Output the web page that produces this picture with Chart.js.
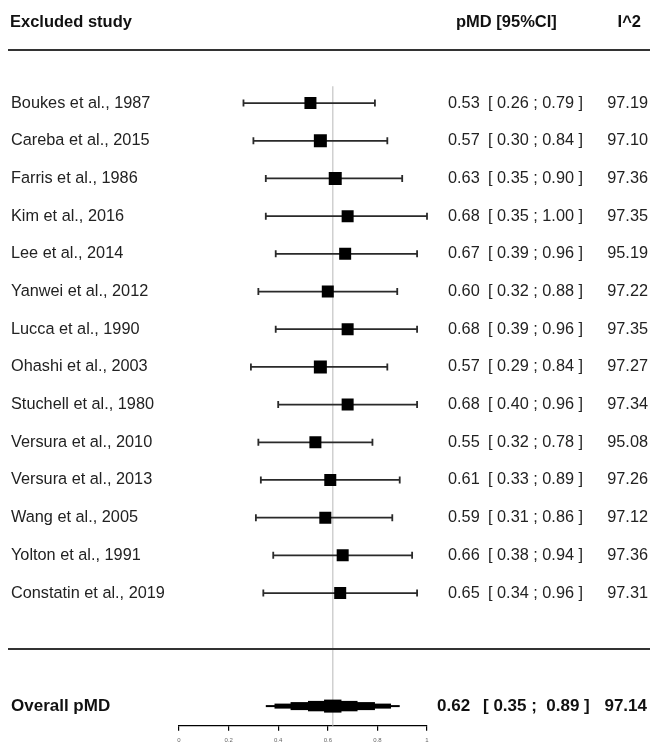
<!DOCTYPE html>
<html>
<head>
<meta charset="utf-8">
<script src="https://cdn.jsdelivr.net/npm/chart.js@4.4.1/dist/chart.umd.min.js"></script>
<style>
  html, body { margin: 0; padding: 0; background: #fff; }
  canvas { display: block; }
</style>
</head>
<body>
<canvas id="forest" width="650" height="745"></canvas>
<script>
// leave-one-out data
const studies = [
  'Boukes et al., 1987', 'Careba et al., 2015', 'Farris et al., 1986', 'Kim et al., 2016',
  'Lee et al., 2014', 'Yanwei et al., 2012', 'Lucca et al., 1990', 'Ohashi et al., 2003',
  'Stuchell et al., 1980', 'Versura et al., 2010', 'Versura et al., 2013', 'Wang et al., 2005',
  'Yolton et al., 1991', 'Constatin et al., 2019'
];
const pmd    = [0.53, 0.57, 0.63, 0.68, 0.67, 0.60, 0.68, 0.57, 0.68, 0.55, 0.61, 0.59, 0.66, 0.65];
const ciLow  = [0.26, 0.30, 0.35, 0.35, 0.39, 0.32, 0.39, 0.29, 0.40, 0.32, 0.33, 0.31, 0.38, 0.34];
const ciHigh = [0.79, 0.84, 0.90, 1.00, 0.96, 0.88, 0.96, 0.84, 0.96, 0.78, 0.89, 0.86, 0.94, 0.96];
const i2     = [97.19, 97.10, 97.36, 97.35, 95.19, 97.22, 97.35, 97.27, 97.34, 95.08, 97.26, 97.12, 97.36, 97.31];

const overallLabel = 'Overall pMD';
const overallEst = 0.62;
const overallCI = [0.35, 0.89];
const overallI2 = 97.14;

const xTicks = [0, 0.2, 0.4, 0.6, 0.8, 1];

// box side in px (study weight look)
const boxSide = [12, 13, 13, 12, 12, 12, 12, 13, 12, 12, 12, 12, 12, 12];

// row positions on the y scale (study i sits at i)
const ROW_HEADER = -2.15, ROW_RULE1 = -1.4, ROW_RULE2 = 14.49, ROW_OVERALL = 16;

const FONT = '"Liberation Sans", Arial, sans-serif';
const f2 = v => v.toFixed(2);

const forestPlugin = {
  id: 'forest',
  beforeDatasetDraw(chart, args) {
    if (args.index !== 0) return;
    // whiskers under the boxes
    const { ctx, scales: { x, y } } = chart;
    ctx.save();
    ctx.strokeStyle = '#2a2a2a';
    ctx.lineWidth = 1.8;
    studies.forEach((s, i) => {
      const yp = y.getPixelForValue(i);
      const x0 = x.getPixelForValue(ciLow[i]);
      const x1 = x.getPixelForValue(ciHigh[i]);
      ctx.beginPath();
      ctx.moveTo(x0, yp); ctx.lineTo(x1, yp);
      ctx.moveTo(x0, yp - 3.5); ctx.lineTo(x0, yp + 3.5);
      ctx.moveTo(x1, yp - 3.5); ctx.lineTo(x1, yp + 3.5);
      ctx.stroke();
    });
    ctx.restore();
  },
  afterDatasetsDraw(chart) {
    const { ctx, scales: { x, y } } = chart;
    ctx.save();

    // stepped diamond for the pooled estimate
    const yc = y.getPixelForValue(ROW_OVERALL);
    const steps = [[1, 1], [0.87, 2.5], [0.63, 4], [0.37, 5.2], [0.13, 6.5]];
    ctx.fillStyle = '#000';
    steps.forEach(([f, h]) => {
      const a = x.getPixelForValue(overallEst - (overallEst - overallCI[0]) * f);
      const b = x.getPixelForValue(overallEst + (overallCI[1] - overallEst) * f);
      ctx.fillRect(a, yc - h, b - a, 2 * h);
    });

    // rules
    ctx.strokeStyle = '#333';
    ctx.lineWidth = 2;
    [ROW_RULE1, ROW_RULE2].forEach(r => {
      const yp = Math.round(y.getPixelForValue(r));
      ctx.beginPath(); ctx.moveTo(8, yp); ctx.lineTo(650, yp); ctx.stroke();
    });

    // header
    ctx.textBaseline = 'middle';
    ctx.fillStyle = '#111';
    ctx.font = 'bold 16.5px ' + FONT;
    const yh = y.getPixelForValue(ROW_HEADER);
    ctx.textAlign = 'left';
    ctx.fillText('Excluded study', 10, yh);
    ctx.fillText('pMD [95%CI]', 456, yh);
    ctx.textAlign = 'right';
    ctx.fillText('I^2', 641, yh);

    // study rows
    ctx.font = '16.3px ' + FONT;
    ctx.fillStyle = '#222';
    studies.forEach((s, i) => {
      const yp = y.getPixelForValue(i);
      ctx.textAlign = 'left';
      ctx.fillText(s, 11, yp);
      ctx.fillText(f2(pmd[i]), 448, yp);
      ctx.fillText('[ ' + f2(ciLow[i]) + ' ; ' + f2(ciHigh[i]) + ' ]', 488, yp);
      ctx.textAlign = 'right';
      ctx.fillText(i2[i].toFixed(2), 648, yp);
    });

    // overall row
    ctx.font = 'bold 17px ' + FONT;
    ctx.fillStyle = '#111';
    ctx.textAlign = 'left';
    ctx.fillText(overallLabel, 11, yc);
    ctx.fillText(f2(overallEst), 437, yc);
    ctx.fillText('[ ' + f2(overallCI[0]) + ' ;  ' + f2(overallCI[1]) + ' ]', 483, yc);
    ctx.textAlign = 'right';
    ctx.fillText(overallI2.toFixed(2), 647, yc);

    ctx.restore();
  }
};

const ctx = document.getElementById('forest').getContext('2d');

new Chart(ctx, {
  type: 'scatter',
  data: {
    datasets: [
      {
        label: 'pMD',
        data: studies.map((s, i) => ({ x: pmd[i], y: i })),
        pointStyle: 'rect',
        pointRadius: boxSide.map(s => s / Math.SQRT2),
        pointHoverRadius: boxSide.map(s => s / Math.SQRT2),
        backgroundColor: '#000',
        borderColor: '#000',
        borderWidth: 0
      },
      {
        type: 'line',
        label: 'reference',
        data: [{ x: overallEst, y: -0.45 }, { x: overallEst, y: 16.52 }],
        borderColor: '#d0d0d0',
        borderWidth: 1.5,
        pointRadius: 0
      }
    ]
  },
  options: {
    responsive: false,
    animation: false,
    devicePixelRatio: 1,
    layout: { padding: { left: 179, right: 223, top: 85, bottom: 0 } },
    plugins: {
      legend: { display: false },
      tooltip: { enabled: false }
    },
    scales: {
      x: {
        type: 'linear',
        min: 0,
        max: 1,
        afterBuildTicks: scale => { scale.ticks = xTicks.map(v => ({ value: v })); },
        afterFit: scale => { scale.height = 19.3; },
        ticks: {
          autoSkip: false,
          maxRotation: 0,
          padding: 6,
          color: '#666',
          font: { size: 6, family: FONT },
          callback: v => String(v)
        },
        grid: {
          display: true,
          drawOnChartArea: false,
          drawTicks: true,
          tickLength: 5,
          color: '#000',
          lineWidth: 1.2
        },
        border: { display: true, color: '#000', width: 1.3 }
      },
      y: {
        type: 'linear',
        min: -0.48,
        max: 16.52,
        reverse: true,
        display: false
      }
    }
  },
  plugins: [forestPlugin]
});
</script>
</body>
</html>
